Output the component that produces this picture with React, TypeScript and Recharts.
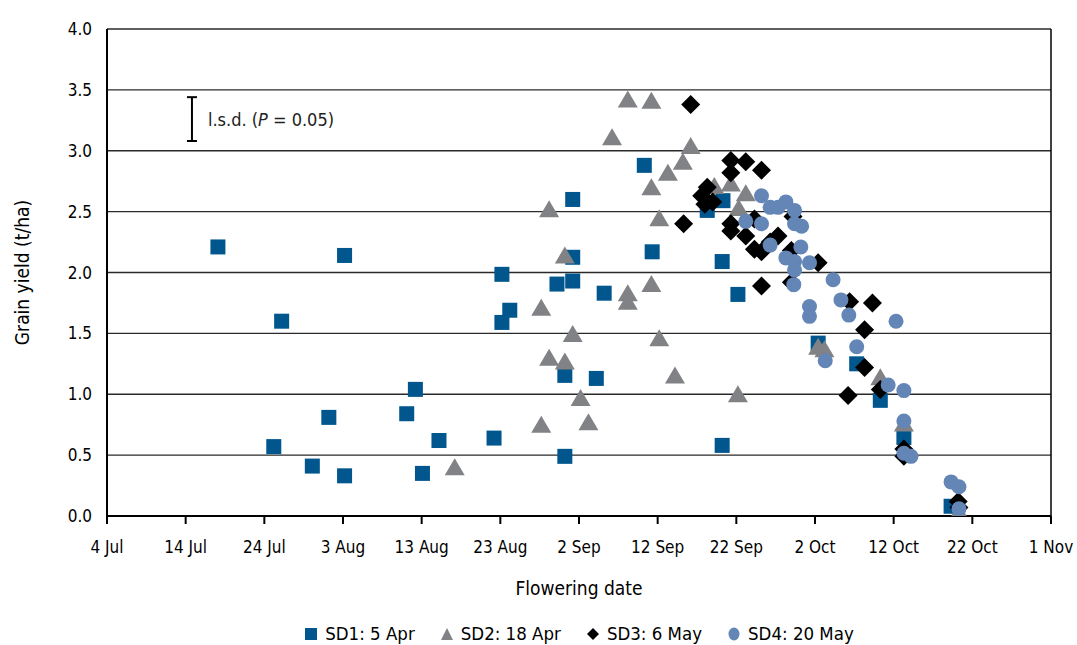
import React from 'react';
import {
  ScatterChart,
  Scatter,
  XAxis,
  YAxis,
  CartesianGrid,
  Legend,
  ReferenceLine,
  ErrorBar,
} from 'recharts';

// days counted from 4 Jul
const tickDays = [0, 10, 20, 30, 40, 50, 60, 70, 80, 90, 100, 110, 120];
const tickLabels = ['4 Jul', '14 Jul', '24 Jul', '3 Aug', '13 Aug', '23 Aug', '2 Sep', '12 Sep', '22 Sep', '2 Oct', '12 Oct', '22 Oct', '1 Nov'];
const yTicks = [0, 0.5, 1, 1.5, 2, 2.5, 3, 3.5, 4];

const sd1Day = [14.1, 21.2, 22.2, 26.1, 28.2, 30.2, 30.2, 38.1, 39.2, 40.1, 42.2, 49.2, 50.2, 50.2, 51.2, 57.2, 58.2, 58.2, 59.2, 59.2, 59.2, 62.2, 63.2, 68.3, 69.3, 76.3, 78.3, 78.2, 78.2, 80.2, 90.4, 95.3, 98.3, 101.3, 107.3];
const sd1Yield = [2.21, 0.57, 1.6, 0.41, 0.81, 2.14, 0.33, 0.84, 1.04, 0.35, 0.62, 0.64, 1.985, 1.59, 1.69, 1.905, 1.155, 0.49, 2.6, 2.125, 1.93, 1.13, 1.83, 2.88, 2.17, 2.51, 2.59, 2.09, 0.58, 1.82, 1.42, 1.25, 0.95, 0.645, 0.08];

const sd2Day = [44.2, 55.2, 55.2, 56.2, 56.2, 58.2, 58.2, 59.2, 60.2, 61.2, 64.2, 66.2, 66.2, 66.2, 69.2, 69.2, 69.2, 70.2, 70.2, 71.3, 72.2, 73.2, 74.2, 77.2, 79.3, 80.3, 81.2, 80.2, 90.4, 91.2, 98.3, 101.3, 108.3];
const sd2Yield = [0.4, 1.71, 0.75, 2.52, 1.3, 2.14, 1.27, 1.495, 0.97, 0.77, 3.11, 3.42, 1.83, 1.76, 3.41, 2.7, 1.905, 2.445, 1.46, 2.82, 1.155, 2.91, 3.04, 2.71, 2.73, 2.53, 2.65, 1.0, 1.39, 1.37, 1.14, 0.76, 0.035];

const sd3Day = [74.2, 73.3, 79.3, 81.2, 79.3, 83.2, 76.3, 75.6, 77.0, 76.0, 79.3, 79.3, 81.2, 82.3, 82.3, 83.2, 84.3, 85.3, 83.2, 87.2, 87.0, 87.0, 90.4, 94.4, 97.3, 96.3, 96.3, 94.2, 98.3, 101.3, 101.3, 108.2, 108.3];
const sd3Yield = [3.38, 2.4, 2.92, 2.91, 2.82, 2.84, 2.7, 2.63, 2.58, 2.56, 2.4, 2.34, 2.3, 2.44, 2.19, 2.17, 2.25, 2.3, 1.89, 2.46, 2.18, 1.92, 2.08, 1.76, 1.75, 1.53, 1.22, 0.99, 1.04, 0.55, 0.49, 0.12, 0.07];

const sd4Day = [83.2, 84.3, 85.3, 86.3, 87.4, 81.2, 83.2, 87.4, 88.3, 84.3, 88.2, 86.3, 87.4, 89.3, 87.4, 87.3, 92.3, 93.3, 89.3, 89.3, 94.3, 100.3, 95.3, 91.3, 99.3, 101.3, 101.3, 101.3, 102.2, 107.3, 108.3, 108.3];
const sd4Yield = [2.63, 2.535, 2.535, 2.58, 2.51, 2.42, 2.4, 2.4, 2.38, 2.225, 2.21, 2.12, 2.09, 2.08, 2.02, 1.9, 1.94, 1.775, 1.72, 1.64, 1.65, 1.6, 1.39, 1.275, 1.076, 1.03, 0.78, 0.515, 0.49, 0.28, 0.24, 0.06];

// l.s.d. bar: position in data units, half length
const lsdDay = [10.8];
const lsdMid = [3.26];
const lsdHalf = [0.18];

const FONT = "'Liberation Sans Narrow', 'DejaVu Sans Condensed', 'Arial Narrow', 'Roboto Condensed', 'Open Sans', sans-serif";
const C1 = '#01568e';
const C2 = '#808285';
const C3 = '#000000';
const C4 = '#6386b6';

const toPoints = (days: number[], ys: number[]) => days.map((d, i) => ({ day: d, yield: ys[i] }));
const sd1 = toPoints(sd1Day, sd1Yield);
const sd2 = toPoints(sd2Day, sd2Yield);
const sd3 = toPoints(sd3Day, sd3Yield);
const sd4 = toPoints(sd4Day, sd4Yield);
const lsd = lsdDay.map((d, i) => ({ day: d, yield: lsdMid[i], err: lsdHalf[i] }));

const SquareDot = (p: any) => <rect x={p.cx - 7.5} y={p.cy - 7.5} width={15} height={15} fill={C1} />;
const TriangleDot = (p: any) => (
  <polygon points={`${p.cx},${p.cy - 9} ${p.cx + 10},${p.cy + 8} ${p.cx - 10},${p.cy + 8}`} fill={C2} />
);
const DiamondDot = (p: any) => (
  <polygon
    points={`${p.cx},${p.cy - 9.5} ${p.cx + 9.5},${p.cy} ${p.cx},${p.cy + 9.5} ${p.cx - 9.5},${p.cy}`}
    fill={C3}
  />
);
const CircleDot = (p: any) => <circle cx={p.cx} cy={p.cy} r={7.5} fill={C4} />;

const LsdText = (p: any) => (
  <text x={p.cx + 16} y={p.cy + 7} fontSize={18} fontFamily={FONT} fill="#222">
    l.s.d. (<tspan fontStyle="italic">P</tspan> = 0.05)
  </text>
);

const YTitle = (props: any) => {
  const vb = props.viewBox || { x: 0, y: 0, width: 0, height: 0 };
  const x = 22;
  const y = vb.y + vb.height / 2;
  return (
    <text x={x} y={y} transform={`rotate(-90, ${x}, ${y})`} textAnchor="middle" dominantBaseline="central" fontSize={19} fontFamily={FONT} fill="#000">
      Grain yield (t/ha)
    </text>
  );
};

const XTitle = (props: any) => {
  const vb = props.viewBox || { x: 0, y: 0, width: 0, height: 0 };
  return (
    <text x={vb.x + vb.width / 2} y={vb.y + 72} textAnchor="middle" dominantBaseline="central" fontSize={19} fontFamily={FONT} fill="#000">
      Flowering date
    </text>
  );
};

const LegendIcon = ({ type, color }: { type: string; color: string }) => {
  let mark = <rect x={1} y={1} width={12} height={12} fill={color} />;
  if (type === 'triangle') mark = <polygon points="7,1 13,13 1,13" fill={color} />;
  if (type === 'diamond') mark = <polygon points="7,1 13,7 7,13 1,7" fill={color} />;
  if (type === 'circle') mark = <ellipse cx={7} cy={7} rx={5.5} ry={6.5} fill={color} />;
  return (
    <svg width={14} height={14} style={{ marginRight: 7, verticalAlign: 'middle' }}>
      {mark}
    </svg>
  );
};

const LegendContent = (props: any) => {
  const items = (props.payload || []).filter((e: any) => e.type !== 'none');
  return (
    <div style={{ display: 'flex', justifyContent: 'center', paddingLeft: 107, paddingRight: 26, paddingTop: 4, fontFamily: FONT, fontSize: 18.5, color: '#000' }}>
      {items.map((e: any, i: number) => (
        <span key={`leg-${i}`} style={{ display: 'inline-flex', alignItems: 'center', marginLeft: i === 0 ? 0 : 25, whiteSpace: 'nowrap' }}>
          <LegendIcon type={e.type} color={e.color} />
          {e.value}
        </span>
      ))}
    </div>
  );
};

export default function App() {
  return (
    <div style={{ position: 'absolute', left: 0, top: 0, width: 1077, height: 645, background: '#fff' }}>
      <ScatterChart width={1077} height={645} margin={{ top: 29, right: 26, left: 0, bottom: 0 }}>
        <CartesianGrid horizontal vertical={false} stroke="#2a2a2a" strokeWidth={1.4} />
        <XAxis
          type="number"
          dataKey="day"
          domain={[0, 120]}
          ticks={tickDays}
          tickFormatter={(v: number) => tickLabels[tickDays.indexOf(v)]}
          tick={{ fill: '#000', fontSize: 17, fontFamily: FONT }}
          tickSize={8}
          tickMargin={17}
          stroke="#000"
          strokeWidth={2}
          height={103}
          interval={0}
          label={<XTitle />}
        />
        <YAxis
          type="number"
          dataKey="yield"
          domain={[0, 4]}
          ticks={yTicks}
          tickFormatter={(v: number) => v.toFixed(1)}
          tick={{ fill: '#000', fontSize: 17, fontFamily: FONT }}
          tickLine={false}
          tickSize={0}
          tickMargin={15}
          stroke="#000"
          strokeWidth={2}
          width={107}
          interval={0}
          allowDataOverflow
          label={<YTitle />}
        />
        <ReferenceLine x={120} stroke="#000" strokeWidth={1.5} />
        <Legend
          verticalAlign="bottom"
          align="center"
          wrapperStyle={{ height: 26, left: 0, width: 1077 }}
          content={<LegendContent />}
        />
        <Scatter name="SD1: 5 Apr" data={sd1} fill={C1} legendType="square" shape={SquareDot} isAnimationActive={false} />
        <Scatter name="SD2: 18 Apr" data={sd2} fill={C2} legendType="triangle" shape={TriangleDot} isAnimationActive={false} />
        <Scatter name="SD3: 6 May" data={sd3} fill={C3} legendType="diamond" shape={DiamondDot} isAnimationActive={false} />
        <Scatter name="SD4: 20 May" data={sd4} fill={C4} legendType="circle" shape={CircleDot} isAnimationActive={false} />
        <Scatter name="lsd" data={lsd} fill="#000" legendType="none" shape={LsdText} isAnimationActive={false}>
          <ErrorBar dataKey="err" direction="y" width={5} stroke="#000" strokeWidth={2} />
        </Scatter>
      </ScatterChart>
    </div>
  );
}
